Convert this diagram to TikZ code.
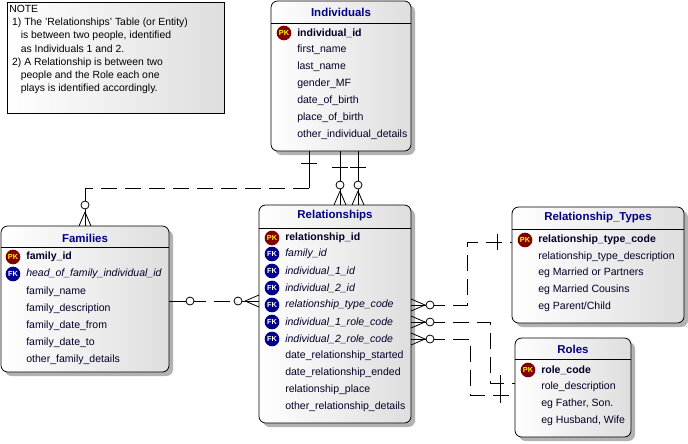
\documentclass[tikz,border=0pt]{standalone}
\usepackage{fontspec}
\setmainfont{Liberation Sans}
\usetikzlibrary{positioning}
\definecolor{ttl}{RGB}{0,0,128}
\definecolor{pkred}{RGB}{128,0,0}
\definecolor{fkblue}{RGB}{0,0,140}
\begin{document}
\begin{tikzpicture}[x=0.75pt,y=-0.75pt,
  font=\fontsize{7.9}{10}\selectfont,
  tbl/.style={draw=black, rounded corners=5pt, left color=white, right color=black!13, line width=0.6pt},
  shd/.style={fill=black!30, rounded corners=5pt},
  title/.style={font=\fontsize{8.6}{10}\selectfont\bfseries, text=ttl},
  fld/.style={anchor=west, inner sep=0pt, text=black!85!blue},
  pk/.style={circle, fill=pkred, text=yellow, inner sep=0pt, minimum size=11pt, font=\fontsize{5.5}{6}\selectfont\bfseries},
  fk/.style={circle, fill=fkblue, text=white, inner sep=0pt, minimum size=11pt, font=\fontsize{5.5}{6}\selectfont\bfseries},
  rel/.style={line width=0.6pt},
  dsh/.style={line width=0.6pt, dash pattern=on 12pt off 6pt},
  opt/.style={circle, draw, fill=white, inner sep=0pt, minimum size=6pt, line width=0.6pt}]
\useasboundingbox (0,0) rectangle (688,443);

% note
\node[draw, left color=white, right color=black!13, minimum width=163pt, minimum height=83pt, anchor=north west] (note) at (7,2) {};
\node[anchor=north west, align=left, inner sep=0pt, font=\fontsize{7.8}{9.9}\selectfont] (notetext) at (9,5)
  {NOTE\\
  \ 1) The 'Relationships' Table (or Entity)\\
  \ \ \ \ is between two people, identified\\
  \ \ \ \ as Individuals 1 and 2.\\
  \ 2) A Relationship is between two\\
  \ \ \ \ people and the Role each one\\
  \ \ \ \ plays is identified accordingly.};

% Individuals
\fill[shd] (275,5) rectangle (415,155);
\draw[tbl] (271,1) rectangle (411,151);
\draw (271,23) -- (411,23);
\node[title] (indt) at (341,12) {Individuals};
\node[pk] (indpk) at (284,33) {PK};
\node[fld, font=\fontsize{7.9}{10}\selectfont\bfseries] (ind1) at (297,33) {individual\_id};
\node[fld] (ind2) at (297,50) {first\_name};
\node[fld] (ind3) at (297,67) {last\_name};
\node[fld] (ind4) at (297,84) {gender\_MF};
\node[fld] (ind5) at (297,101) {date\_of\_birth};
\node[fld] (ind6) at (297,118) {place\_of\_birth};
\node[fld] (ind7) at (297,135) {other\_individual\_details};

% Relationships
\fill[shd] (263,209) rectangle (415,427);
\draw[tbl] (259,205) rectangle (411,423);
\draw (259,228) -- (411,228);
\node[title] (relt) at (335,216) {Relationships};
\node[pk] (relpk) at (272,238) {PK};
\node[fk] (relfk1) at (272,254) {FK};
\node[fk] (relfk2) at (272,271) {FK};
\node[fk] (relfk3) at (272,288) {FK};
\node[fk] (relfk4) at (272,305) {FK};
\node[fk] (relfk5) at (272,322) {FK};
\node[fk] (relfk6) at (272,339) {FK};
\node[fld, font=\fontsize{7.9}{10}\selectfont\bfseries] (rel1) at (285,238) {relationship\_id};
\node[fld, font=\fontsize{7.9}{10}\selectfont\itshape] (rel2) at (285,254) {family\_id};
\node[fld, font=\fontsize{7.9}{10}\selectfont\itshape] (rel3) at (285,271) {individual\_1\_id};
\node[fld, font=\fontsize{7.9}{10}\selectfont\itshape] (rel4) at (285,288) {individual\_2\_id};
\node[fld, font=\fontsize{7.9}{10}\selectfont\itshape] (rel5) at (285,305) {relationship\_type\_code};
\node[fld, font=\fontsize{7.9}{10}\selectfont\itshape] (rel6) at (285,322) {individual\_1\_role\_code};
\node[fld, font=\fontsize{7.9}{10}\selectfont\itshape] (rel7) at (285,339) {individual\_2\_role\_code};
\node[fld] (rel8) at (285,356) {date\_relationship\_started};
\node[fld] (rel9) at (285,373) {date\_relationship\_ended};
\node[fld] (rel10) at (285,390) {relationship\_place};
\node[fld] (rel11) at (285,407) {other\_relationship\_details};

% Families
\fill[shd] (5,230) rectangle (173,376);
\draw[tbl] (1,226) rectangle (169,372);
\draw (1,247) -- (169,247);
\node[title] (famt) at (85,238) {Families};
\node[pk] (fampk) at (13,257) {PK};
\node[fk] (famfk) at (13,274) {FK};
\node[fld, font=\fontsize{7.9}{10}\selectfont\bfseries] (fam1) at (26,257) {family\_id};
\node[fld, font=\fontsize{7.9}{10}\selectfont\itshape] (fam2) at (26,274) {head\_of\_family\_individual\_id};
\node[fld] (fam3) at (26,292) {family\_name};
\node[fld] (fam4) at (26,309) {family\_description};
\node[fld] (fam5) at (26,326) {family\_date\_from};
\node[fld] (fam6) at (26,343) {family\_date\_to};
\node[fld] (fam7) at (26,360) {other\_family\_details};

% Relationship_Types
\fill[shd] (516,211) rectangle (688,327);
\draw[tbl] (512,207) rectangle (684,323);
\draw (512,229) -- (684,229);
\node[title] (typt) at (598,218) {Relationship\_Types};
\node[pk] (typpk) at (525,240) {PK};
\node[fld, font=\fontsize{7.9}{10}\selectfont\bfseries] (typ1) at (538,240) {relationship\_type\_code};
\node[fld] (typ2) at (538,257) {relationship\_type\_description};
\node[fld] (typ3) at (538,273) {eg Married or Partners};
\node[fld] (typ4) at (538,290) {eg Married Cousins};
\node[fld] (typ5) at (538,307) {eg Parent/Child};

% Roles
\fill[shd] (519,342) rectangle (635,441);
\draw[tbl] (515,338) rectangle (631,437);
\draw (515,359) -- (631,359);
\node[title] (rolt) at (573,349) {Roles};
\node[pk] (rolpk) at (528,370) {PK};
\node[fld, font=\fontsize{7.9}{10}\selectfont\bfseries] (rol1) at (541,370) {role\_code};
\node[fld] (rol2) at (541,387) {role\_description};
\node[fld] (rol3) at (541,404) {eg Father, Son.};
\node[fld] (rol4) at (541,421) {eg Husband, Wife};

% connector ends
\coordinate (a1) at (309,151);
\coordinate (a2) at (85,226);
\coordinate (b1) at (340,151);
\coordinate (b2) at (340,205);
\coordinate (c1) at (358,151);
\coordinate (c2) at (358,205);
\coordinate (d1) at (169,301);
\coordinate (d2) at (259,301);
\coordinate (e1) at (411,305);
\coordinate (e2) at (512,242);
\coordinate (f1) at (411,322);
\coordinate (f2) at (515,383);
\coordinate (g1) at (411,339);
\coordinate (g2) at (515,395);

% Individuals - Families
\draw[rel] (a1) -- ++(0,37);
\draw[dsh] (a1) ++(0,37) -- ++(-224,0);
\draw[rel] (a2) ++(0,-38) -- (a2);
\draw[rel] (301,163) -- (317,163);
\draw[rel] (a2) ++(0,-14) -- ++(-6,14) (a2) ++(0,-14) -- ++(6,14);
\node[opt] (o1) at (85,205) {};

% Individuals - Relationships
\draw[rel] (b1) -- (b2);
\draw[rel] (c1) -- (c2);
\draw[rel] (332,167) -- (348,167) (350,167) -- (366,167);
\draw[rel] (340,191) -- (334,205) (340,191) -- (346,205);
\draw[rel] (358,191) -- (352,205) (358,191) -- (364,205);
\node[opt] (o2) at (340,185) {};
\node[opt] (o3) at (358,185) {};

% Families - Relationships
\draw[rel] (d1) -- (190,301);
\draw[dsh] (190,301) -- (238,301);
\draw[rel] (238,301) -- (d2);
\draw[rel] (245,301) -- (259,295) (245,301) -- (259,307);
\node[opt] (o4) at (190,301) {};
\node[opt] (o5) at (238,301) {};

% Relationship_Types - Relationships
\draw[rel] (e1) -- ++(18,0);
\draw[dsh] (429,305) -| (467,242) -- (e2);
\draw[rel] (411,299) -- (425,305) -- (411,311);
\draw[rel] (497,234) -- (497,250);
\node[opt] (o6) at (430,305) {};

% Roles - Relationships
\draw[rel] (f1) -- ++(18,0);
\draw[dsh] (429,322) -| (490,383) -- (f2);
\draw[rel] (411,316) -- (425,322) -- (411,328);
\draw[rel] (500,375) -- (500,391);
\node[opt] (o7) at (430,322) {};

\draw[rel] (g1) -- ++(18,0);
\draw[dsh] (429,339) -| (470,395) -- (g2);
\draw[rel] (411,333) -- (425,339) -- (411,345);
\draw[rel] (500,387) -- (500,403);
\node[opt] (o8) at (430,339) {};
\end{tikzpicture}
\end{document}
